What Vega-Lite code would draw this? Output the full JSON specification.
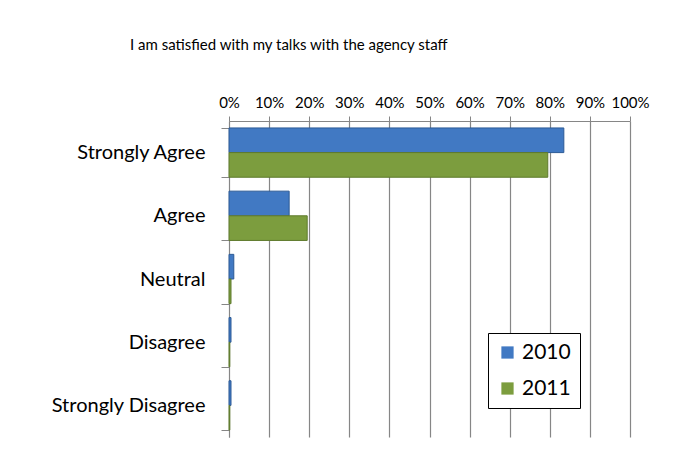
{
  "$schema": "https://vega.github.io/schema/vega-lite/v6.json",
  "width": 401,
  "height": 316,
  "autosize": {"type": "none"},
  "padding": {"left": 229, "top": 121, "right": 45, "bottom": 13},
  "background": "white",
  "config": {
    "font": "Lato, Open Sans, sans-serif",
    "view": {"stroke": null}
  },
  "title": {
    "text": "I am satisfied with my talks with the agency staff",
    "anchor": "start",
    "frame": "group",
    "dx": -99,
    "offset": 42,
    "fontSize": 15,
    "fontWeight": "normal",
    "color": "#000000"
  },
  "data": {
    "values": [
      {"response": "Strongly Agree", "year": "2010", "pct": 0.835},
      {"response": "Strongly Agree", "year": "2011", "pct": 0.795},
      {"response": "Agree", "year": "2010", "pct": 0.15},
      {"response": "Agree", "year": "2011", "pct": 0.195},
      {"response": "Neutral", "year": "2010", "pct": 0.012},
      {"response": "Neutral", "year": "2011", "pct": 0.005},
      {"response": "Disagree", "year": "2010", "pct": 0.005},
      {"response": "Disagree", "year": "2011", "pct": 0.002},
      {"response": "Strongly Disagree", "year": "2010", "pct": 0.005},
      {"response": "Strongly Disagree", "year": "2011", "pct": 0.002}
    ]
  },
  "mark": {"type": "bar", "strokeWidth": 1},
  "encoding": {
    "y": {
      "field": "response",
      "type": "nominal",
      "sort": ["Strongly Agree", "Agree", "Neutral", "Disagree", "Strongly Disagree"],
      "scale": {"paddingInner": 0.22, "paddingOuter": 0.11},
      "axis": {
        "title": null,
        "labelFontSize": 20,
        "labelColor": "#000000",
        "labelPadding": 16,
        "domainColor": "#868686",
        "tickColor": "#868686",
        "tickSize": 8,
        "tickBand": "extent",
        "grid": false
      }
    },
    "yOffset": {"field": "year", "type": "nominal", "sort": ["2010", "2011"]},
    "x": {
      "field": "pct",
      "type": "quantitative",
      "scale": {"domain": [0, 1], "nice": false},
      "axis": {
        "orient": "top",
        "title": null,
        "format": ".0%",
        "values": [0, 0.1, 0.2, 0.3, 0.4, 0.5, 0.6, 0.7, 0.8, 0.9, 1],
        "labelFontSize": 15,
        "labelColor": "#000000",
        "labelPadding": 6,
        "domain": true,
        "domainColor": "#868686",
        "grid": true,
        "gridColor": "#868686",
        "gridWidth": 1.2,
        "tickColor": "#868686",
        "tickSize": 5,
        "labelFlush": false
      }
    },
    "color": {
      "field": "year",
      "type": "nominal",
      "scale": {"domain": ["2010", "2011"], "range": ["#4179C3", "#7C9D3E"]},
      "legend": {
        "title": null,
        "orient": "none",
        "legendX": 259,
        "legendY": 212,
        "symbolType": "square",
        "symbolSize": 150,
        "symbolStrokeWidth": 0,
        "labelFontSize": 21,
        "labelColor": "#000000",
        "rowPadding": 14,
        "padding": 9,
        "strokeColor": "#000000",
        "fillColor": "#ffffff"
      }
    },
    "stroke": {
      "field": "year",
      "type": "nominal",
      "scale": {"domain": ["2010", "2011"], "range": ["#2C5A96", "#5E7A2C"]},
      "legend": null
    }
  }
}
